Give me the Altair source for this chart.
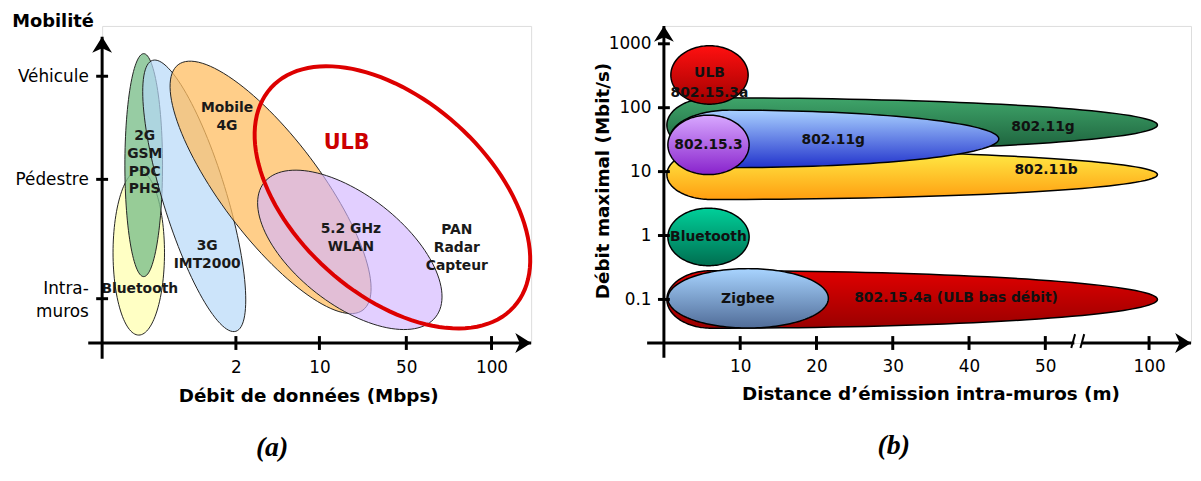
import math
import json
import altair as alt
import pandas as pd

FONT = "DejaVu Sans"

# ---------------- panel (a) ----------------
a_tick_pos = [1.57, 2.55, 3.57, 4.57]
a_tick_labels = ["2", "10", "50", "100"]
a_mob_tick = [0.52, 1.92, 3.13]
a_mob_label_pos = [0.64, 1.92, 3.13]
a_mob_labels = [["Intra-", "muros"], "Pédestre", "Véhicule"]

a_names = ["Bluetooth", "2G", "3G", "4G", "WLAN", "ULB"]
a_cx = [0.430, 0.488, 1.081, 1.977, 2.907, 3.407]
a_cy = [1.058, 2.087, 1.727, 1.826, 1.093, 1.709]
a_rx = [0.302, 0.221, 1.663, 1.802, 1.279, 1.919]
a_ry = [0.965, 1.308, 0.372, 0.581, 0.640, 1.140]
a_angle = [0, 0, -72.9, -53, -38, -42]
a_fill = ["#FFFFC4", "#7DBF8C", "#B6D8F8", "#FFBE62", "#D2B6FF", "none"]
a_fop = [1.0, 0.8, 0.7, 0.75, 0.65, 0.0]

a_text = ["2G\nGSM\nPDC\nPHS", "Mobile\n4G", "3G\nIMT2000", "Bluetooth",
          "5.2 GHz\nWLAN", "PAN\nRadar\nCapteur"]
a_tx = [0.50, 1.465, 1.233, 0.442, 2.919, 4.163]
a_ty = [2.43, 2.756, 1.14, 0.628, 1.337, 1.326]
a_ulb_text = ["ULB"]
a_ulb_x = [2.87]
a_ulb_y = [2.349]

A_XDOM = [0, 5.035]
A_YDOM = [0, 3.72]

# ---------------- panel (b) ----------------
b_x_tick_pos = [10, 20, 30, 40, 50, 63.6]
b_x_tick_labels = ["10", "20", "30", "40", "50", "100"]
b_y_ticks = [0.1, 1, 10, 100, 1000]
b_y_labels = ["0.1", "1", "10", "100", "1000"]

b_names = ["11g_big", "11b", "11g", "15.3", "ULB3a", "BT", "15.4a", "Zigbee"]
b_x0 = [0.39, 0.39, 0.78, 0.52, 0.91, 0.52, 0.39, 0.52]        # left end (m)
b_x1 = [64.7, 64.7, 43.9, 11.17, 11.04, 11.17, 64.7, 21.56]    # right end (m)
b_rl = [5.8, 5.8, 7.8, 5.32, 5.06, 5.32, 5.8, 10.52]           # left half-width (m)
b_crate = [53.6, 8.98, 32.5, 26.2, 325, 0.95, 0.1, 0.104]      # centre rate (Mbit/s)
b_rdec = [0.425, 0.39, 0.45, 0.465, 0.457, 0.45, 0.45, 0.465]  # half-height (decades)
b_top = ["#3FA56A", "#FFEE48", "#A8D0FF", "#D8A8FF", "#FF1010", "#00D09A", "#E00000", "#A8D4FF"]
b_bot = ["#1B5E3A", "#FF9E10", "#2233CC", "#8822CC", "#A00000", "#006E50", "#9A0000", "#506C98"]

b_text = ["ULB\n802.15.3a", "802.11g", "802.11b", "802.11g", "802.15.3", "Bluetooth",
          "Zigbee", "802.15.4a (ULB bas débit)"]
b_tx = [5.97, 49.7, 50.1, 22.2, 5.84, 5.84, 11.0, 38.3]
b_ty = [343, 49.9, 10.4, 31.3, 26.2, 0.95, 0.1, 0.104]

B_XDOM = [0, 69.1]
B_YDOM = [0.0208, 1901]


def ellipse_rows(name, cx, cy, rx, ry, ang, n=120):
    t = math.radians(ang)
    rows = []
    for k in range(n):
        s = 2 * math.pi * k / n
        ex, ey = rx * math.cos(s), ry * math.sin(s)
        x = cx + ex * math.cos(t) - ey * math.sin(t)
        y = cy + ex * math.sin(t) + ey * math.cos(t)
        rows.append({"name": name, "i": k, "x": x, "y": y})
    return rows


def cigar_rows(name, x0, x1, rl, logc, rdec, n=160):
    # blunt left half (half-width rl), long tapered right half
    cx = x0 + rl
    rr = x1 - cx
    rows = []
    for k in range(n):
        s = 2 * math.pi * k / n
        c = math.cos(s)
        x = cx + (rl if c < 0 else rr) * c
        y = logc + rdec * math.sin(s)
        rows.append({"name": name, "i": k, "x": x, "y": 10 ** y})
    return rows


ARROW_R = "M0,0 L-1.6,-1 L-1.15,0 L-1.6,1 Z"
ARROW_U = "M0,0 L-1,1.6 L0,1.15 L1,1.6 Z"

LABEL_SIZE = 17
TITLE_SIZE = 18.5

# ---------- panel (a) chart ----------
a_rows = []
for i in range(len(a_names)):
    a_rows += ellipse_rows(a_names[i], a_cx[i], a_cy[i], a_rx[i], a_ry[i], a_angle[i])
a_df = pd.DataFrame(a_rows)

ax_expr = "%s[indexof(%s, datum.value)]" % (json.dumps(a_tick_labels), json.dumps(a_tick_pos))
ay_expr = "%s[indexof(%s, datum.value)]" % (json.dumps(a_mob_labels, ensure_ascii=False),
                                            json.dumps(a_mob_label_pos))

AX = alt.X("x:Q", scale=alt.Scale(domain=A_XDOM, nice=False, zero=False),
           axis=alt.Axis(values=a_tick_pos, labelExpr=ax_expr, domain=False, ticks=False, tickSize=0,
                         grid=False, labelPadding=17, labelFontSize=LABEL_SIZE, labelColor="black",
                         title="Débit de données (Mbps)", titleFontSize=TITLE_SIZE, titleFontWeight="bold",
                         titleX=208, titleY=53, titleBaseline="middle", titleAnchor="start",
                         titleAlign="center", titleColor="black"))
AY = alt.Y("y:Q", scale=alt.Scale(domain=A_YDOM, nice=False, zero=False),
           axis=alt.Axis(values=a_mob_label_pos, labelExpr=ay_expr, domain=False, ticks=False, tickSize=0,
                         grid=False, labelPadding=14, labelFontSize=LABEL_SIZE, labelColor="black",
                         labelLineHeight=23,
                         title="Mobilité", titleAngle=0, titleX=-50, titleY=-4, titleAlign="center",
                         titleBaseline="middle", titleFontSize=18, titleFontWeight="bold",
                         titleColor="black"))

a_layers = []
for i, nm in enumerate(a_names):
    if nm == "ULB":
        mk = alt.Chart(a_df).transform_filter(alt.datum.name == nm).mark_line(
            interpolate="linear-closed", stroke="#DD0000", strokeWidth=4)
    else:
        mk = alt.Chart(a_df).transform_filter(alt.datum.name == nm).mark_line(
            interpolate="linear-closed", fill=a_fill[i], fillOpacity=a_fop[i],
            stroke="#222222", strokeWidth=1)
    a_layers.append(mk.encode(x=AX, y=AY, order="i:Q"))

a_txt_df = pd.DataFrame({"x": a_tx, "y": a_ty, "t": a_text})
a_layers.append(alt.Chart(a_txt_df).mark_text(lineBreak="\n", fontSize=14, fontWeight="bold",
                                               lineHeight=18, color="#1a1a1a", font=FONT).encode(
    x=AX, y=AY, text="t:N"))
a_ulb_df = pd.DataFrame({"x": a_ulb_x, "y": a_ulb_y, "t": a_ulb_text})
a_layers.append(alt.Chart(a_ulb_df).mark_text(fontSize=21, fontWeight="bold", color="#CC0000",
                                               font=FONT).encode(x=AX, y=AY, text="t:N"))

# axes lines, ticks, arrows for (a)
a_axis_df = pd.DataFrame({"x": [-0.163, 0], "x2": [A_XDOM[1], 0],
                          "y": [0, -0.186], "y2": [0, 3.593]})
a_layers.append(alt.Chart(a_axis_df).mark_rule(color="black", strokeWidth=3).encode(
    x=AX, x2="x2:Q", y=AY, y2="y2:Q"))
a_layers.append(alt.Chart(pd.DataFrame({"x": a_tick_pos, "y": [0] * 4})).mark_tick(
    orient="vertical", size=14, thickness=3, color="black", opacity=1).encode(x=AX, y=AY))
a_layers.append(alt.Chart(pd.DataFrame({"x": [0] * 3, "y": a_mob_tick})).mark_tick(
    orient="horizontal", size=12, thickness=3, color="black", opacity=1).encode(x=AX, y=AY))
a_layers.append(alt.Chart(pd.DataFrame({"x": [A_XDOM[1]], "y": [0]})).mark_point(
    shape=ARROW_R, size=400, filled=True, color="black", opacity=1).encode(x=AX, y=AY))
a_layers.append(alt.Chart(pd.DataFrame({"x": [0], "y": [3.593]})).mark_point(
    shape=ARROW_U, size=400, filled=True, color="black", opacity=1).encode(x=AX, y=AY))

chart_a = alt.layer(*a_layers).properties(
    width=433, height=320,
    title=alt.TitleParams("(a)", orient="bottom", font="Liberation Serif", fontSize=28,
                          fontStyle="italic", fontWeight="bold", frame="group", anchor="middle",
                          dx=-45, offset=30, color="black"))

# ---------- panel (b) chart ----------
b_rows = []
for i in range(len(b_names)):
    b_rows += cigar_rows(b_names[i], b_x0[i], b_x1[i], b_rl[i], math.log10(b_crate[i]), b_rdec[i])
b_df = pd.DataFrame(b_rows)

bx_expr = "%s[indexof(%s, datum.value)]" % (json.dumps(b_x_tick_labels), json.dumps(b_x_tick_pos))
by_expr = "%s[indexof(%s, datum.value)]" % (json.dumps(b_y_labels), json.dumps(b_y_ticks))

BX = alt.X("x:Q", scale=alt.Scale(domain=B_XDOM, nice=False, zero=False),
           axis=alt.Axis(values=b_x_tick_pos, labelExpr=bx_expr, domain=False, ticks=False, tickSize=0,
                         grid=False, labelPadding=16, labelFontSize=LABEL_SIZE, labelColor="black",
                         title="Distance d’émission intra-muros (m)", titleFontSize=TITLE_SIZE,
                         titleFontWeight="bold", titleX=269, titleY=51, titleBaseline="middle",
                         titleAlign="center", titleColor="black"))
BY = alt.Y("y:Q", scale=alt.Scale(type="log", domain=B_YDOM, nice=False, zero=False),
           axis=alt.Axis(values=b_y_ticks, labelExpr=by_expr, domain=False, ticks=False, tickSize=0,
                         grid=False, labelPadding=13, labelFontSize=LABEL_SIZE, labelColor="black",
                         title="Débit maximal (Mbit/s)", titleFontSize=TITLE_SIZE, titleFontWeight="bold",
                         titleAngle=270, titleX=-62, titleY=156, titleAlign="center",
                         titleBaseline="middle", titleColor="black"))

b_layers = []
for i, nm in enumerate(b_names):
    grad = alt.Gradient(gradient="linear", x1=0, x2=0, y1=0, y2=1,
                        stops=[alt.GradientStop(color=b_top[i], offset=0),
                               alt.GradientStop(color=b_bot[i], offset=1)])
    b_layers.append(alt.Chart(b_df).transform_filter(alt.datum.name == nm).mark_line(
        interpolate="linear-closed", fill=grad, stroke="black", strokeWidth=1.5).encode(
        x=BX, y=BY, order="i:Q"))

b_txt_df = pd.DataFrame({"x": b_tx, "y": b_ty, "t": b_text})
b_layers.append(alt.Chart(b_txt_df).mark_text(lineBreak="\n", fontSize=14, fontWeight="bold",
                                               lineHeight=20, color="#111111", font=FONT).encode(
    x=BX, y=BY, text="t:N"))

b_axis_df = pd.DataFrame({"x": [-2.2, 54.8, 0], "x2": [53.8, B_XDOM[1], 0],
                          "y": [B_YDOM[0], B_YDOM[0], 0.0122], "y2": [B_YDOM[0], B_YDOM[0], B_YDOM[1]]})
b_layers.append(alt.Chart(b_axis_df).mark_rule(color="black", strokeWidth=3).encode(
    x=BX, x2="x2:Q", y=BY, y2="y2:Q"))
b_break_df = pd.DataFrame({"x": [53.4, 54.6], "x2": [53.9, 55.1],
                           "y": [0.01738, 0.01738], "y2": [0.02864, 0.02864]})
b_layers.append(alt.Chart(b_break_df).mark_rule(color="black", strokeWidth=2).encode(
    x=BX, x2="x2:Q", y=BY, y2="y2:Q"))
b_layers.append(alt.Chart(pd.DataFrame({"x": b_x_tick_pos, "y": [B_YDOM[0]] * 6})).mark_tick(
    orient="vertical", size=14, thickness=3, color="black", opacity=1).encode(x=BX, y=BY))
b_layers.append(alt.Chart(pd.DataFrame({"x": [0] * 5, "y": b_y_ticks})).mark_tick(
    orient="horizontal", size=12, thickness=3, color="black", opacity=1).encode(x=BX, y=BY))
b_layers.append(alt.Chart(pd.DataFrame({"x": [B_XDOM[1]], "y": [B_YDOM[0]]})).mark_point(
    shape=ARROW_R, size=400, filled=True, color="black", opacity=1).encode(x=BX, y=BY))
b_layers.append(alt.Chart(pd.DataFrame({"x": [0], "y": [B_YDOM[1]]})).mark_point(
    shape=ARROW_U, size=400, filled=True, color="black", opacity=1).encode(x=BX, y=BY))

chart_b = alt.layer(*b_layers).properties(
    width=532, height=320,
    title=alt.TitleParams("(b)", orient="bottom", font="Liberation Serif", fontSize=28,
                          fontStyle="italic", fontWeight="bold", frame="group", anchor="middle",
                          dx=-34, offset=30, color="black"))

chart = alt.hconcat(chart_a, chart_b, spacing=54).properties(
    padding={"left": 3, "top": 2, "right": 0, "bottom": 0}
).configure_view(strokeWidth=0).configure(font=FONT)

chart.save("out.html", embed_options={"renderer": "svg", "actions": False})
